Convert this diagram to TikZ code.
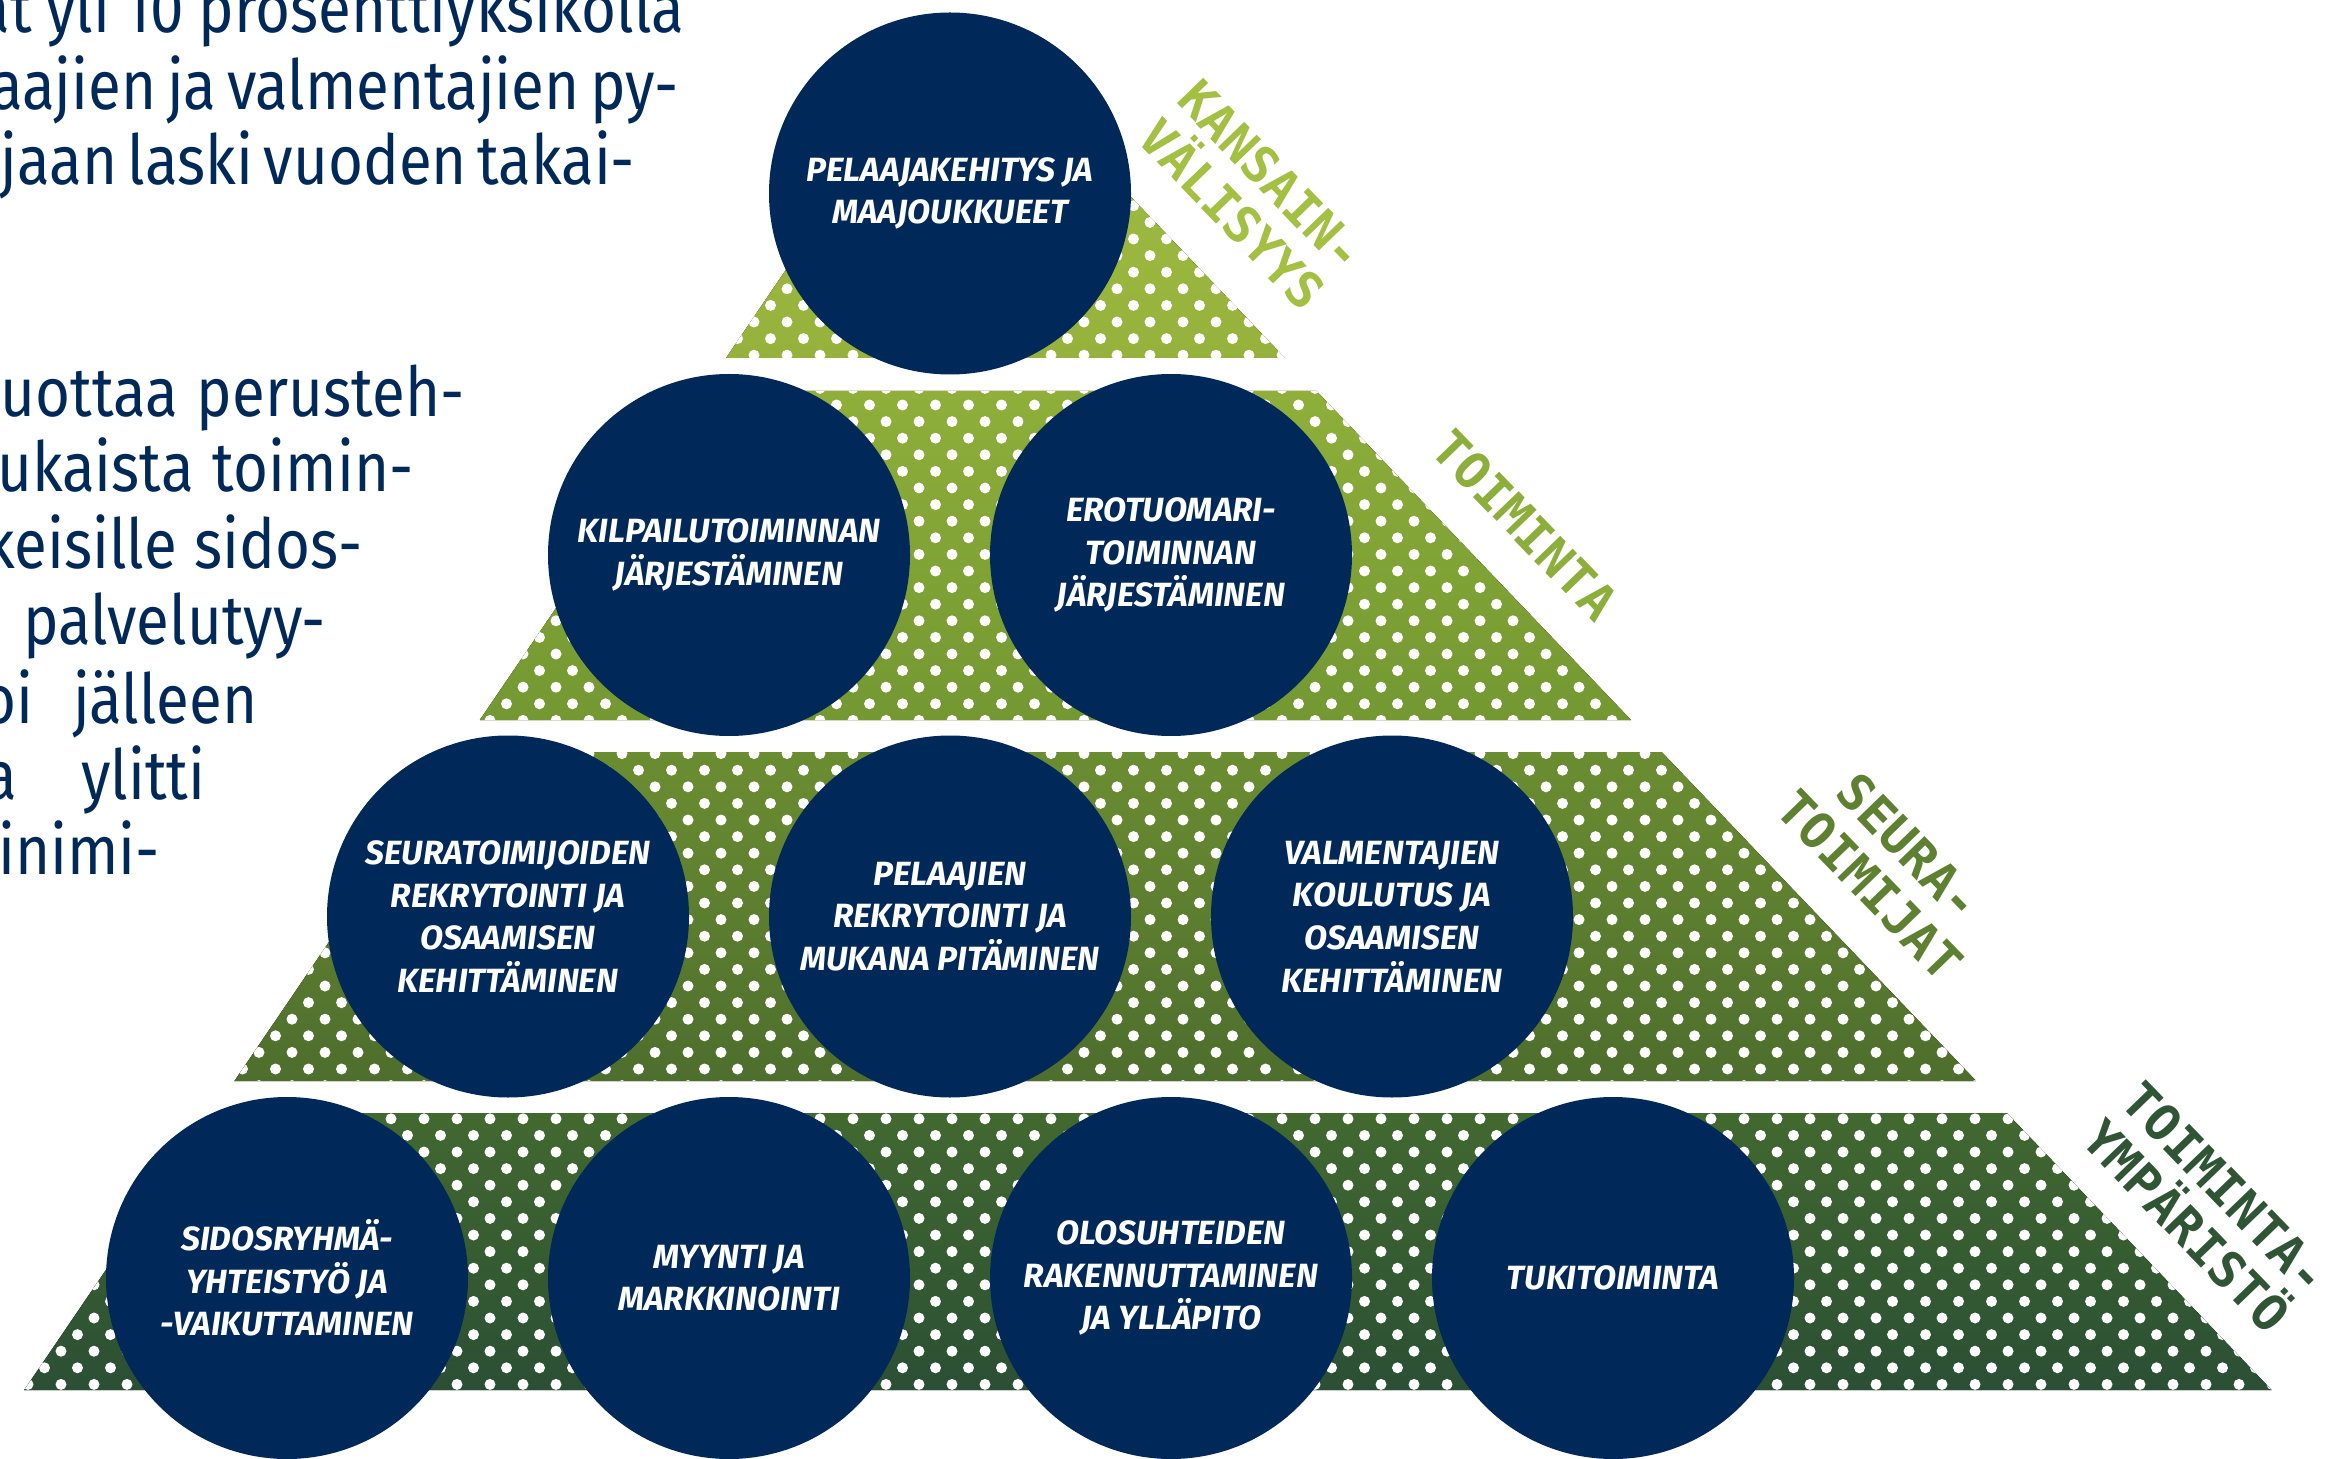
\documentclass[tikz,border=0pt]{standalone}
\usepackage{fontspec}
\newfontfamily\bodyfont[FakeStretch=0.87]{Fira Sans}
\newfontfamily\circfont{Fira Sans}
\newfontfamily\labfont{DejaVu Sans Mono}
\definecolor{navy}{HTML}{00295A}
\definecolor{tAa}{HTML}{A3BF45}\definecolor{tAb}{HTML}{96B23C}
\definecolor{tBa}{HTML}{8FAF3A}\definecolor{tBb}{HTML}{739832}
\definecolor{tCa}{HTML}{6B8D31}\definecolor{tCb}{HTML}{4D6E2D}
\definecolor{tDa}{HTML}{41692F}\definecolor{tDb}{HTML}{2B4F34}
\definecolor{labA}{HTML}{A3C043}
\definecolor{labB}{HTML}{8CAE3B}
\definecolor{labC}{HTML}{5D8031}
\definecolor{labD}{HTML}{2F5535}
\tikzset{
  bub/.style={circle, fill=navy, minimum size=181pt, inner sep=0pt, text=white, align=center,
    font=\circfont\bfseries\itshape\fontsize{16.8}{21.3}\selectfont},
  lab/.style={font=\labfont\bfseries\fontsize{25}{27.5}\selectfont, rotate=-46, align=center, inner sep=0pt},
  body/.style={anchor=base west, inner sep=0pt, text=navy, font=\bodyfont\fontsize{34.5}{38}\selectfont}
}
\begin{document}
\begin{tikzpicture}[x=0.5pt,y=-0.5pt]
\useasboundingbox (0,0) rectangle (2332,1459);
% tiers
\fill[top color=tAa, bottom color=tAb] (958,16) -- (1285,358) -- (726,358) -- cycle;
\fill[top color=tBa, bottom color=tBb] (703.6,391) -- (1316.5,391) -- (1631.1,720) -- (479.8,720) -- cycle;
\fill[top color=tCa, bottom color=tCb] (458.1,752) -- (1661.7,752) -- (1976.2,1081) -- (234.4,1081) -- cycle;
\fill[top color=tDa, bottom color=tDb] (212.6,1113) -- (2006.8,1113) -- (2271.6,1390) -- (24.2,1390) -- cycle;
% dots
\begin{scope}
\clip (958,16) -- (1285,358) -- (726,358) -- cycle
      (703.6,391) -- (1316.5,391) -- (1631.1,720) -- (479.8,720) -- cycle
      (458.1,752) -- (1661.7,752) -- (1976.2,1081) -- (234.4,1081) -- cycle
      (212.6,1113) -- (2006.8,1113) -- (2271.6,1390) -- (24.2,1390) -- cycle;
\foreach \k in {0,...,84} {
  \pgfmathsetmacro\yy{6.6+16.6*\k}
  \pgfmathsetmacro\xo{11.5+16.5*mod(\k,2)}
  \fill[white] \foreach \j in {0,...,70} { ({\xo+33*(\j-1)}, \yy) circle (5.5) };
}
\end{scope}
% circles
\node[bub] (c1) at (950,193.5) {PELAAJAKEHITYS JA\\MAAJOUKKUEET};
\node[bub] (c2) at (729,555) {KILPAILUTOIMINNAN\\JÄRJESTÄMINEN};
\node[bub] (c3) at (1171,555) {EROTUOMARI-\\TOIMINNAN\\JÄRJESTÄMINEN};
\node[bub] (c4) at (508,916.5) {SEURATOIMIJOIDEN\\REKRYTOINTI JA\\OSAAMISEN\\KEHITTÄMINEN};
\node[bub] (c5) at (950,916.5) {PELAAJIEN\\REKRYTOINTI JA\\MUKANA PITÄMINEN};
\node[bub] (c6) at (1392,916.5) {VALMENTAJIEN\\KOULUTUS JA\\OSAAMISEN\\KEHITTÄMINEN};
\node[bub] (c7) at (287,1278) {SIDOSRYHMÄ-\\YHTEISTYÖ JA\\-VAIKUTTAMINEN};
\node[bub] (c8) at (729,1278) {MYYNTI JA\\MARKKINOINTI};
\node[bub] (c9) at (1171,1278) {OLOSUHTEIDEN\\RAKENNUTTAMINEN\\JA YLLÄPITO};
\node[bub] (c10) at (1613,1278) {TUKITOIMINTA};
% side labels
\node[lab, text=labA] (l1) at (1252,195) {KANSAIN-\\VÄLISYYS};
\node[lab, text=labB] (l2) at (1525,525) {TOIMINTA};
\node[lab, text=labC] (l3) at (1890,866) {SEURA-\\TOIMIJAT};
\node[lab, text=labD] (l4) at (2206,1207) {TOIMINTA-\\YMPÄRISTÖ};
% body text
\node[body] (t1) at (-23,33) {\makebox[353.5pt][s]{at yli 10 prosenttiyksikolla}};
\node[body] (t2) at (-10,110) {\makebox[343pt][s]{aajien ja valmentajien py-}};
\node[body] (t3) at (0,185) {\makebox[311.5pt][s]{jaan laski vuoden takai-}};
\node[body] (t4) at (0,417) {\makebox[232pt][s]{uottaa perusteh-}};
\node[body] (t5) at (-3,492) {\makebox[208pt][s]{ukaista toimin-}};
\node[body] (t6) at (-16,569) {\makebox[189pt][s]{keisille sidos-}};
\node[body] (t7) at (23,645) {palvelutyy-};
\node[body] (t8) at (-19,723.5) {\makebox[138pt][s]{oi jälleen}};
\node[body] (t9) at (-16,799) {\makebox[110.5pt][s]{a ylitti}};
\node[body] (t10) at (-2,874) {inimi-};
\end{tikzpicture}
\end{document}
